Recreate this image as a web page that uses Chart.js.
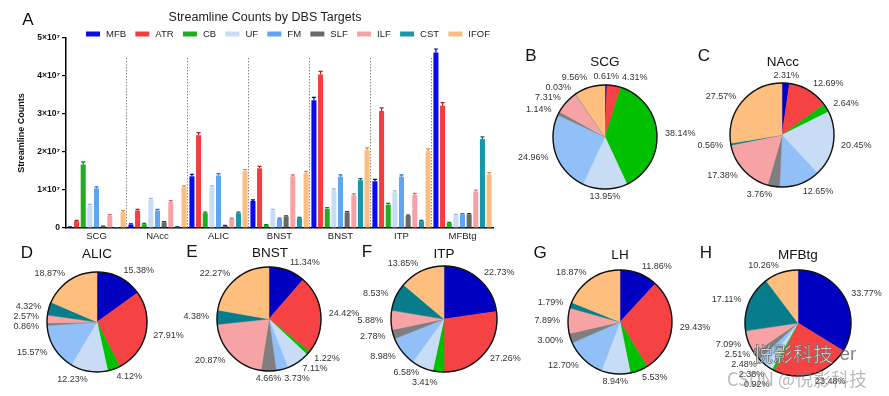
<!DOCTYPE html>
<html><head><meta charset="utf-8">
<script src="https://cdn.jsdelivr.net/npm/chart.js@4.4.0/dist/chart.umd.min.js"></script>
<style>
html,body{margin:0;padding:0;background:#fff;width:889px;height:396px;overflow:hidden;font-family:"Liberation Sans",Arial,sans-serif;}
canvas{position:absolute;}
.t{position:absolute;white-space:nowrap;color:#111;transform:translate(-50%,-50%);line-height:1;}
</style></head><body>
<script>
// ---------- DATA ----------
const targets = ['SCG','NAcc','ALIC','BNST','BNST','ITP','MFBtg'];
const tracts = ['MFB','ATR','CB','UF','FM','SLF','ILF','CST','IFOF'];
// streamline counts (x 10^7)
const MFB  = [0.02, 0.09, 1.36, 0.71, 3.36, 1.23, 4.62];
const ATR  = [0.18, 0.46, 2.44, 1.57, 4.04, 3.08, 3.22];
const CB   = [1.67, 0.10, 0.39, 0.08, 0.51, 0.61, 0.13];
const UF   = [0.59, 0.75, 1.07, 0.46, 0.99, 0.94, 0.34];
const FM   = [1.04, 0.46, 1.38, 0.24, 1.35, 1.35, 0.36];
const SLF  = [0.04, 0.15, 0.06, 0.30, 0.41, 0.32, 0.36];
const ILF  = [0.32, 0.68, 0.24, 1.36, 0.86, 0.87, 0.96];
const CST  = [0.005,0.03, 0.39, 0.26, 1.26, 0.18, 2.34];
const IFOF = [0.43, 1.07, 1.49, 1.44, 2.05, 2.02, 1.41];
// error (x 10^7)
const MFB_err  = [0.01, 0.02, 0.05, 0.03, 0.08, 0.05, 0.09];
const ATR_err  = [0.02, 0.03, 0.07, 0.05, 0.08, 0.08, 0.08];
const CB_err   = [0.07, 0.02, 0.03, 0.01, 0.03, 0.04, 0.02];
const UF_err   = [0.03, 0.03, 0.04, 0.03, 0.04, 0.04, 0.02];
const FM_err   = [0.04, 0.03, 0.05, 0.02, 0.05, 0.05, 0.02];
const SLF_err  = [0.01, 0.02, 0.01, 0.02, 0.02, 0.02, 0.02];
const ILF_err  = [0.03, 0.04, 0.02, 0.04, 0.04, 0.04, 0.04];
const CST_err  = [0.00, 0.01, 0.03, 0.02, 0.04, 0.02, 0.06];
const IFOF_err = [0.03, 0.04, 0.05, 0.05, 0.06, 0.06, 0.05];
const yTicks = [0, 1, 2, 3, 4, 5]; // x 10^7
// pie percentages (order MFB..IFOF)
const scgPct   = [0.61, 4.31, 38.14, 13.95, 24.96, 1.14, 7.31, 0.03, 9.56];
const naccPct  = [2.31, 12.69, 2.64, 20.45, 12.65, 3.76, 17.38, 0.56, 27.57];
const alicPct  = [15.38, 27.91, 4.12, 12.23, 15.57, 0.86, 2.57, 4.32, 18.87];
const bnstPct  = [11.34, 24.42, 1.22, 7.11, 3.73, 4.66, 20.87, 4.38, 22.27];
const itpPct   = [22.73, 27.26, 3.41, 6.58, 8.98, 2.78, 5.88, 8.53, 13.85];
const lhPct    = [11.86, 29.43, 5.53, 8.94, 12.70, 3.00, 7.89, 1.79, 18.87];
const mfbtgPct = [33.77, 23.48, 0.92, 2.38, 2.48, 2.51, 7.09, 17.11, 10.26];

// ---------- STYLE ----------
const FONT = '"Liberation Sans", Arial, sans-serif';
const barColors = ['#0a0af2','#f33d3f','#1fae1f','#c8dcf6','#5fa5f2','#686868','#f7a3a6','#1797a8','#fbbd80'];
const errColors = ['#0000a8','#b81c20','#0f7a0f','#9cb8e0','#2a74c8','#333333','#d9656b','#0b6470','#d98c45'];
const pieColors = ['#0000c0','#f74244','#00c000','#c8dcf6','#90c0f7','#7f7f7f','#f7a2a4','#077d8c','#fdbe7e'];

function addText(txt, x, y, size, extra){
  const d=document.createElement('div'); d.className='t'; d.textContent=txt;
  d.style.left=x+'px'; d.style.top=y+'px'; d.style.fontSize=size+'px';
  if(extra) Object.assign(d.style, extra);
  document.body.appendChild(d); return d;
}
function addCanvas(id,l,t,w,h){
  const c=document.createElement('canvas'); c.id=id; c.width=w; c.height=h;
  c.style.left=l+'px'; c.style.top=t+'px'; c.style.width=w+'px'; c.style.height=h+'px';
  document.body.appendChild(c); return c;
}

// ---------- BAR CHART ----------
const series = [MFB,ATR,CB,UF,FM,SLF,ILF,CST,IFOF];
const seriesErr = [MFB_err,ATR_err,CB_err,UF_err,FM_err,SLF_err,ILF_err,CST_err,IFOF_err];

const barCanvas = addCanvas('bar',0,0,495,245);
const barPlugin = {
  id:'barExtras',
  beforeDatasetsDraw(chart){
    const {ctx, chartArea, scales:{x}} = chart;
    ctx.save();
    ctx.strokeStyle='#8a8a8a'; ctx.lineWidth=1; ctx.setLineDash([1.5,1.5]);
    for(let i=1;i<targets.length;i++){
      const px = Math.round((x.getPixelForValue(i-1)+x.getPixelForValue(i))/2)-0.5;
      ctx.beginPath(); ctx.moveTo(px, chartArea.top+20); ctx.lineTo(px, chartArea.bottom); ctx.stroke();
    }
    ctx.restore();
  },
  afterDatasetsDraw(chart){
    const {ctx, scales:{y}} = chart;
    ctx.save();
    chart.data.datasets.forEach((ds,di)=>{
      const meta = chart.getDatasetMeta(di);
      meta.data.forEach((el,i)=>{
        const v = ds.data[i], e = seriesErr[di][i]*1e7;
        if(v<=0) return;
        const yt = y.getPixelForValue(v+e);
        const w = el.width*0.8;
        ctx.strokeStyle = errColors[di]; ctx.lineWidth=1.2;
        ctx.beginPath();
        ctx.moveTo(el.x, el.y); ctx.lineTo(el.x, yt);
        ctx.moveTo(el.x-w/2, yt); ctx.lineTo(el.x+w/2, yt);
        ctx.stroke();
      });
    });
    ctx.restore();
  },
  afterDraw(chart){
    const ctx = chart.ctx;
    ctx.save();
    ctx.font='9.5px '+FONT;
    ctx.textBaseline='middle'; ctx.textAlign='left';
    const x0=86, x1=490, y=34;
    const widths = tracts.map(n=>14+6+ctx.measureText(n).width);
    const sp = (x1-x0-widths.reduce((a,b)=>a+b,0))/(tracts.length-1);
    let x=x0;
    tracts.forEach((n,i)=>{
      ctx.fillStyle=barColors[i]; ctx.fillRect(x,y-2.5,14,5);
      ctx.fillStyle='#222'; ctx.fillText(n,x+20,y+0.5);
      x += widths[i]+sp;
    });
    ctx.restore();
  }
};

new Chart(barCanvas,{
  type:'bar',
  data:{
    labels:targets,
    datasets: series.map((s,i)=>({label:tracts[i], data:s.map(v=>v*1e7), backgroundColor:barColors[i], borderWidth:0,
      categoryPercentage:0.98, barPercentage:0.76}))
  },
  options:{
    responsive:false, animation:false, devicePixelRatio:1,
    layout:{padding:{top:38,right:2,left:0,bottom:0}},
    plugins:{legend:{display:false}, tooltip:{enabled:false}},
    scales:{
      x:{
        grid:{display:false, drawTicks:false},
        border:{display:true,color:'#000',width:1.5},
        ticks:{font:{size:9.5,family:FONT}, color:'#222', padding:3, maxRotation:0, autoSkip:false},
        afterFit:s=>{s.height=17;}
      },
      y:{
        min:0, max:5e7,
        afterBuildTicks:s=>{s.ticks=yTicks.map(v=>({value:v*1e7}));},
        ticks:{callback:v=>v===0?'0':(v/1e7)+'×10⁷', font:{size:8.5,weight:'bold',family:FONT}, color:'#111', padding:2},
        grid:{drawOnChartArea:false, drawTicks:true, tickLength:4, color:'#000', lineWidth:1.2},
        border:{display:true,color:'#000',width:1.5},
        title:{display:true,text:'Streamline Counts', font:{size:9,weight:'bold',family:FONT}, color:'#111', padding:{top:16,bottom:0}},
        afterFit:s=>{s.width=66;}
      }
    }
  },
  plugins:[barPlugin]
});
addText('A',28,19,17);
addText('Streamline Counts by DBS Targets',265,17,12.5,{color:'#222'});

// ---------- PIES ----------
const pies = [
  {pct:scgPct,   title:'SCG',   letter:'B', cx:605, cy:137, r:52, tx:605, ty:62,  lx:531, ly:55},
  {pct:naccPct,  title:'NAcc',  letter:'C', cx:782, cy:135, r:52, tx:783, ty:62,  lx:704, ly:55},
  {pct:alicPct,  title:'ALIC',  letter:'D', cx:97,  cy:322, r:50, tx:97,  ty:254, lx:27,  ly:252},
  {pct:bnstPct,  title:'BNST',  letter:'E', cx:269, cy:319, r:52, tx:270, ty:253, lx:192, ly:251},
  {pct:itpPct,   title:'ITP',   letter:'F', cx:444, cy:319, r:53, tx:444, ty:254, lx:367, ly:251},
  {pct:lhPct,    title:'LH',    letter:'G', cx:620, cy:322, r:52, tx:620, ty:255, lx:540, ly:252},
  {pct:mfbtgPct, title:'MFBtg', letter:'H', cx:798, cy:323, r:53, tx:798, ty:255, lx:706, ly:252}
];

const pieLabelPlugin = {
  id:'pieLabels',
  afterDatasetsDraw(chart){
    const {ctx} = chart;
    const meta = chart.getDatasetMeta(0);
    const pct = chart.data.datasets[0].data;
    const arcs = meta.data;
    if(!arcs.length) return;
    const cx = arcs[0].x, cy = arcs[0].y, R = arcs[0].outerRadius;
    ctx.save();
    ctx.beginPath(); ctx.arc(cx,cy,R,0,Math.PI*2); ctx.strokeStyle='#111'; ctx.lineWidth=1.4; ctx.stroke();
    const gap=8;
    ctx.font='9px '+FONT;
    const labs = arcs.map((a,i)=>{
      const mid=(a.startAngle+a.endAngle)/2;
      const c=Math.cos(mid), s=Math.sin(mid);
      return {text:pct[i].toFixed(2)+'%', x:cx+(R+gap)*c, y:cy+(R+gap)*s, c,
              align: c>0.1?'left':(c<-0.1?'right':'center')};
    });
    ['left','right'].forEach(side=>{
      const g = labs.filter(l=>l.align===side).sort((a,b)=>a.y-b.y);
      for(let it=0;it<60;it++){
        for(let k=1;k<g.length;k++){
          const d=g[k].y-g[k-1].y;
          if(d<10){const m=(10-d)/2; g[k].y+=m; g[k-1].y-=m;}
        }
      }
    });
    // nudge centred labels away from neighbouring side labels
    labs.filter(l=>l.align==='center').forEach(cl=>{
      const w=ctx.measureText(cl.text).width;
      labs.filter(l=>l.align==='left').forEach(l=>{
        if(Math.abs(l.y-cl.y)<9 && l.x < cl.x+w/2+3) l.x = cl.x+w/2+3;
      });
      labs.filter(l=>l.align==='right').forEach(l=>{
        if(Math.abs(l.y-cl.y)<9 && l.x > cl.x-w/2-3) l.x = cl.x-w/2-3;
      });
    });
    ctx.fillStyle='#333'; ctx.textBaseline='middle';
    labs.forEach(l=>{ctx.textAlign=l.align; ctx.fillText(l.text,l.x,l.y);});
    ctx.restore();
  }
};

pies.forEach((p,k)=>{
  const W=230,H=190;
  const c = addCanvas('pie'+k, p.cx-W/2, p.cy-H/2, W, H);
  new Chart(c,{
    type:'pie',
    data:{labels:tracts, datasets:[{data:p.pct, backgroundColor:pieColors, borderColor:pieColors, borderWidth:0.5, radius:p.r}]},
    options:{responsive:false, animation:false, devicePixelRatio:1,
      layout:{padding:0},
      plugins:{legend:{display:false}, tooltip:{enabled:false}}},
    plugins:[pieLabelPlugin]
  });
  addText(p.title, p.tx, p.ty, 13.5, {color:'#111'});
  addText(p.letter, p.lx, p.ly, 17, {color:'#111'});
});

// watermark overlay present in the reference
addText('悦影科技', 793, 354, 20, {fontFamily:'"Noto Sans CJK SC"', color:'rgba(255,255,255,0.85)', webkitTextStroke:'0.7px #666'});
addText('er', 848, 353, 19, {color:'rgba(90,90,90,0.75)'});
addText('CSDN @悦影科技', 797, 378, 18, {fontFamily:'"Noto Sans CJK SC"', color:'rgba(130,130,130,0.55)'});
</script>
</body></html>
